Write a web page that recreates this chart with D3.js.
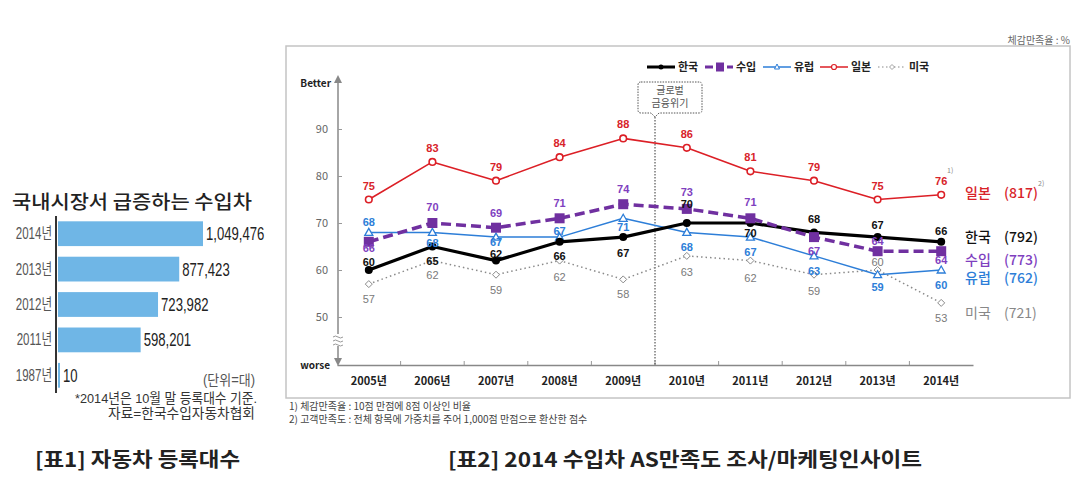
<!DOCTYPE html>
<html><head><meta charset="utf-8">
<script src="https://cdn.jsdelivr.net/npm/d3@7/dist/d3.min.js"></script>
<style>
html,body{margin:0;padding:0;background:#fff;}
svg{display:block;font-family:"Noto Sans CJK KR","Noto Sans",sans-serif;}
</style></head>
<body>
<svg id="c" width="1077" height="495"></svg>
<script>
// ---------- Left chart data ----------
const regYears = ['2014년','2013년','2012년','2011년','1987년'];
const regCounts = [1049476, 877423, 723982, 598201, 10];

// ---------- Right chart data ----------
const years = ['2005년','2006년','2007년','2008년','2009년','2010년','2011년','2012년','2013년','2014년'];
const korea    = [60,65,62,66,67,70,70,68,67,66];
const imported = [66,70,69,71,74,73,71,67,64,64];
const europe   = [68,68,67,67,71,68,67,63,59,60];
const japan    = [75,83,79,84,88,86,81,79,75,76];
const usa      = [57,62,59,62,58,63,62,59,60,53];
const seriesNames = ['한국','수입','유럽','일본','미국'];
const csScores = [792,773,762,817,721];
const yTicks = [50,60,70,80,90];

// value-label vertical offsets in px (layout only)
const koreaDy  = [-4, 18, -3, 18, 20, -15, 14, -9, -8, -7];
const importDy = [10, -12, -11, -11, -11, -13, -12, 18, -6, 13];
const europeDy = [-6, 15, 9, -2, 13, 19, 19, 19, 16, 19];
const japanDy  = [-10, -10, -10, -10, -10, -10, -10, -10, -10, -10];
const usaDy    = [19, 18, 19, 20, 19, 20, 21, 20, -4, 19];

const svg = d3.select('#c');
const sans = '"Liberation Sans","Noto Sans CJK KR",sans-serif';

// ================= LEFT CHART =================
const L = svg.append('g');
L.append('text').attr('x',12).attr('y',209).attr('font-size',19).attr('font-weight',500)
  .attr('fill','#222').attr('textLength',240).attr('lengthAdjust','spacingAndGlyphs')
  .text('국내시장서 급증하는 수입차');

const ly = d3.scaleBand().domain(regYears).range([216,393]).paddingInner(0.3).paddingOuter(0.15);
const lx = d3.scaleLinear().domain([0, regCounts[0]]).range([58, 203]);
const regData = regYears.map((y,i)=>({y, v:regCounts[i]}));
const barW = d => Math.max(2, lx(d.v)-lx(0));

L.selectAll('rect.bar').data(regData).enter().append('rect')
  .attr('x', lx(0)).attr('y', d=>ly(d.y)).attr('height', ly.bandwidth())
  .attr('width', barW).attr('fill','#6fb6e6');
L.append('line').attr('x1',56).attr('x2',56).attr('y1',216).attr('y2',393).attr('stroke','#333').attr('stroke-width',2);
L.selectAll('text.yl').data(regData).enter().append('text')
  .attr('transform',d=>`translate(52,${ly(d.y)+ly.bandwidth()/2+5.5}) scale(0.72,1)`)
  .attr('text-anchor','end').attr('font-size',16).attr('fill','#555').attr('font-family',sans).text(d=>d.y);
L.selectAll('text.vl').data(regData).enter().append('text')
  .attr('transform',d=>`translate(${lx(0)+barW(d)+3},${ly(d.y)+ly.bandwidth()/2+6.5}) scale(0.73,1)`)
  .attr('font-size',18).attr('fill','#222').attr('font-family',sans).text(d=>d3.format(',')(d.v));
L.append('text').attr('x',203).attr('y',385).attr('font-size',14).attr('textLength',52).attr('lengthAdjust','spacingAndGlyphs')
  .attr('fill','#555').attr('font-family',sans).text('(단위=대)');
L.append('text').attr('x',75).attr('y',403).attr('font-size',13.5).attr('textLength',182).attr('lengthAdjust','spacingAndGlyphs')
  .attr('fill','#333').attr('font-family',sans).text('*2014년은 10월 말 등록대수 기준.');
L.append('text').attr('x',108).attr('y',418).attr('font-size',13.5).attr('textLength',147).attr('lengthAdjust','spacingAndGlyphs')
  .attr('fill','#333').attr('font-family',sans).text('자료=한국수입자동차협회');

svg.append('text').attr('x',35).attr('y',467).attr('font-size',20).attr('textLength',205).attr('lengthAdjust','spacingAndGlyphs')
  .attr('font-weight',700).attr('fill','#222').text('[표1] 자동차 등록대수');
svg.append('text').attr('x',448).attr('y',467).attr('font-size',20).attr('textLength',474).attr('lengthAdjust','spacingAndGlyphs')
  .attr('font-weight',700).attr('fill','#222').text('[표2] 2014 수입차 AS만족도 조사/마케팅인사이트');

// ================= RIGHT CHART =================
const R = svg.append('g');
R.append('rect').attr('x',286).attr('y',46).attr('width',784).attr('height',352)
  .attr('fill','#fff').attr('stroke','#c4c4c4').attr('stroke-width',1.5);
R.append('text').attr('x',1070).attr('y',44).attr('text-anchor','end').attr('font-size',10)
  .attr('fill','#666').text('체감만족율 : %');

const x = d3.scaleBand().domain(years).range([337,973]);
const y = d3.scaleLinear().domain([50,90]).range([317,129]);
const cx = d => x(d) + x.bandwidth()/2;

// axes
R.append('line').attr('x1',338).attr('x2',338).attr('y1',80).attr('y2',360).attr('stroke','#888').attr('stroke-width',1.5);
R.append('path').attr('d','M334,83 L338,75 L342,83 Z').attr('fill','#888');
R.append('path').attr('d','M334,358 L338,366 L342,358 Z').attr('fill','#888');
R.append('rect').attr('x',333).attr('y',334).attr('width',10).attr('height',12).attr('fill','#fff');
R.append('path').attr('d','M333,337 q2.5,-2 5,0 t5,0 M333,341 q2.5,-2 5,0 t5,0 M333,345 q2.5,-2 5,0 t5,0')
  .attr('fill','none').attr('stroke','#999').attr('stroke-width',1);

const yAxis = d3.axisLeft(y).tickValues(yTicks).tickSize(-4).tickPadding(10);
const gy = R.append('g').attr('transform','translate(338,0)').call(yAxis);
gy.select('.domain').remove();
gy.selectAll('.tick line').attr('stroke','#999');
gy.selectAll('.tick text').attr('font-size',11).attr('fill','#666').attr('font-family','"Noto Sans CJK KR",sans-serif');

const xAxis = d3.axisBottom(x).tickSize(0).tickPadding(12);
const gx = R.append('g').attr('transform','translate(0,365)').call(xAxis);
gx.select('.domain').attr('stroke','#888').attr('stroke-width',1.5);
gx.selectAll('.tick text').attr('font-size',11).attr('font-weight',700).attr('fill','#222')
  .attr('font-family','"Noto Sans CJK KR",sans-serif');
R.selectAll('line.bt').data(years.slice(1)).enter().append('line')
  .attr('x1',d=>x(d)).attr('x2',d=>x(d)).attr('y1',365).attr('y2',361).attr('stroke','#999');

R.append('text').attr('x',331).attr('y',87).attr('text-anchor','end').attr('font-size',10)
  .attr('font-weight',700).attr('fill','#222').text('Better');
R.append('text').attr('x',330).attr('y',369).attr('text-anchor','end').attr('font-size',10)
  .attr('font-weight',700).attr('fill','#222').text('worse');

// crisis marker
const crisisX = x('2010년');
R.append('line').attr('x1',crisisX).attr('x2',crisisX).attr('y1',117).attr('y2',365)
  .attr('stroke','#333').attr('stroke-width',1).attr('stroke-dasharray','1.5,1.5');
R.append('path').attr('d',`M641,82 H699 Q702,82 702,85 V110 Q702,113 699,113 H${crisisX+4} L${crisisX},117 L${crisisX-4},113 H641 Q638,113 638,110 V85 Q638,82 641,82 Z`)
  .attr('fill','#fff').attr('stroke','#555').attr('stroke-width',1).attr('stroke-dasharray','1.5,1.2');
R.append('text').attr('x',670).attr('y',94).attr('text-anchor','middle').attr('font-size',10).attr('fill','#555').text('글로벌');
R.append('text').attr('x',670).attr('y',107).attr('text-anchor','middle').attr('font-size',10).attr('fill','#555').text('금융위기');

const series = [
  {name:'미국', vals:usa, dy:usaDy, color:'#8a8a8a', lab:'#7a7a7a', w:1.5, dash:'1.5,3', marker:'diamond', lw:400},
  {name:'일본', vals:japan, dy:japanDy, color:'#dc1f26', lab:'#d8232a', w:1.6, dash:null, marker:'circle', lw:700},
  {name:'유럽', vals:europe, dy:europeDy, color:'#2d7ed8', lab:'#2d7ed8', w:1.5, dash:null, marker:'triangle', lw:700},
  {name:'한국', vals:korea, dy:koreaDy, color:'#000', lab:'#111', w:3.2, dash:null, marker:'dot', lw:700},
  {name:'수입', vals:imported, dy:importDy, color:'#7030a0', lab:'#7f3fbf', w:3.5, dash:'10,5', marker:'square', lw:700},
];

function drawMarker(g, type, color, px, py){
  if(type==='dot') g.append('circle').attr('cx',px).attr('cy',py).attr('r',4).attr('fill',color);
  else if(type==='square') g.append('rect').attr('x',px-5).attr('y',py-5).attr('width',10).attr('height',10).attr('fill',color);
  else if(type==='circle') g.append('circle').attr('cx',px).attr('cy',py).attr('r',3.3).attr('fill','#fff').attr('stroke',color).attr('stroke-width',1.6);
  else if(type==='triangle') g.append('path').attr('d',`M${px},${py-4} L${px+4},${py+3} L${px-4},${py+3} Z`).attr('fill','#fff').attr('stroke',color).attr('stroke-width',1.3);
  else if(type==='diamond') g.append('path').attr('d',`M${px},${py-3.5} L${px+3.5},${py} L${px},${py+3.5} L${px-3.5},${py} Z`).attr('fill','#fff').attr('stroke',color).attr('stroke-width',1);
}

const line = d3.line().x((d,i)=>cx(years[i])).y(d=>y(d));
series.forEach(s=>{
  const g = R.append('g');
  g.append('path').datum(s.vals).attr('d',line).attr('fill','none').attr('stroke',s.color)
    .attr('stroke-width',s.w).attr('stroke-dasharray',s.dash).attr('stroke-linejoin','round');
  s.vals.forEach((v,i)=>drawMarker(g,s.marker,s.color,cx(years[i]),y(v)));
});
series.forEach(s=>{
  R.append('g').selectAll('text').data(s.vals).enter().append('text')
    .attr('x',(d,i)=>cx(years[i])).attr('y',(d,i)=> y(d)+s.dy[i])
    .attr('text-anchor','middle').attr('font-size',11).attr('font-weight',s.lw).attr('fill',s.lab)
    .attr('font-family','"Liberation Sans",Arial,sans-serif')
    .text(d=>d);
});

// right-side labels
const sideY = {'일본':198,'한국':242,'수입':265,'유럽':283,'미국':318};
const sideCol = {'일본':'#d8232a','한국':'#111','수입':'#7f3fbf','유럽':'#2d7ed8','미국':'#888'};
seriesNames.forEach((n,i)=>{
  R.append('text').attr('x',965).attr('y',sideY[n]).attr('font-size',14).attr('fill',sideCol[n])
    .attr('font-weight', n==='미국'?400:500).text(n);
  R.append('text').attr('x',1004).attr('y',sideY[n]).attr('font-size',14).attr('fill',sideCol[n])
    .attr('font-weight', n==='미국'?400:500).text('('+csScores[i]+')');
});
R.append('text').attr('x',1038).attr('y',186).attr('font-size',7).attr('fill','#888').text('2)');
R.append('text').attr('x',947).attr('y',173).attr('font-size',7).attr('fill','#888').text('1)');

// top legend
const legItems = [
  {name:'한국', x:647, color:'#000', w:3, dash:null, marker:'dot'},
  {name:'수입', x:705, color:'#7030a0', w:3, dash:'8,3', marker:'square'},
  {name:'유럽', x:763, color:'#2d7ed8', w:1.5, dash:null, marker:'triangle'},
  {name:'일본', x:820, color:'#dc1f26', w:1.5, dash:null, marker:'circle'},
  {name:'미국', x:878, color:'#8a8a8a', w:1.2, dash:'1.5,2.5', marker:'diamond'},
];
legItems.forEach(it=>{
  const g = R.append('g');
  g.append('line').attr('x1',it.x).attr('x2',it.x+28).attr('y1',67).attr('y2',67)
    .attr('stroke',it.color).attr('stroke-width',it.w).attr('stroke-dasharray',it.dash);
  if(it.marker==='square') g.append('rect').attr('x',it.x+11).attr('y',62.5).attr('width',8).attr('height',9).attr('fill',it.color);
  else if(it.marker==='dot') g.append('circle').attr('cx',it.x+14).attr('cy',67).attr('r',2.5).attr('fill',it.color);
  else if(it.marker==='triangle') g.append('path').attr('d',`M${it.x+14},${64} L${it.x+16.5},${69} L${it.x+11.5},${69} Z`).attr('fill','#fff').attr('stroke',it.color).attr('stroke-width',1);
  else if(it.marker==='circle') g.append('circle').attr('cx',it.x+14).attr('cy',67).attr('r',2.5).attr('fill','#fff').attr('stroke',it.color).attr('stroke-width',1.2);
  else g.append('path').attr('d',`M${it.x+14},64.5 L${it.x+16.5},67 L${it.x+14},69.5 L${it.x+11.5},67 Z`).attr('fill','#fff').attr('stroke',it.color).attr('stroke-width',0.8);
  g.append('text').attr('x',it.x+31).attr('y',71).attr('font-size',11).attr('font-weight',700).attr('fill','#222').text(it.name);
});

// footnotes
svg.append('text').attr('x',289).attr('y',410).attr('font-size',10).attr('fill','#444')
  .text('1) 체감만족율 : 10점 만점에 8점 이상인 비율');
svg.append('text').attr('x',289).attr('y',423).attr('font-size',10).attr('fill','#444')
  .text('2) 고객만족도 : 전체 항목에 가중치를 주어 1,000점 만점으로 환산한 점수');
</script>
</body></html>
